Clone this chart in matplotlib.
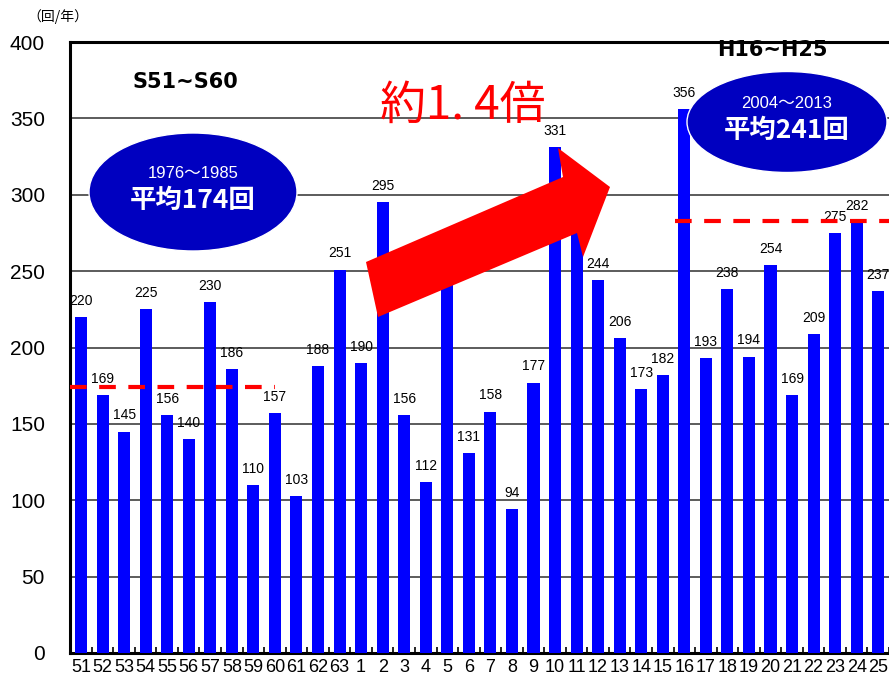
import matplotlib
matplotlib.use("Agg")
import matplotlib.pyplot as plt
from matplotlib.patches import Ellipse, Polygon

# Year labels (Showa 51-63, Heisei 1-25) and yearly counts
years = ["51", "52", "53", "54", "55", "56", "57", "58", "59", "60", "61", "62", "63",
         "1", "2", "3", "4", "5", "6", "7", "8", "9", "10", "11", "12", "13", "14",
         "15", "16", "17", "18", "19", "20", "21", "22", "23", "24", "25"]
counts = [220, 169, 145, 225, 156, 140, 230, 186, 110, 157, 103, 188, 251,
          190, 295, 156, 112, 258, 131, 158, 94, 177, 331, 302, 244, 206, 173,
          182, 356, 193, 238, 194, 254, 169, 209, 275, 282, 237]
# labels that are hidden under the red arrow in the original
hidden = ["5", "11"]

avg_early = 174      # S51~S60
avg_late_line = 283  # line drawn for H16~H25 as placed in the picture

W, H = 889, 681
sans = "Liberation Sans"
mixed = ["Liberation Sans", "Noto Sans CJK JP", "DejaVu Sans"]
jp = ["Noto Sans CJK JP", "DejaVu Sans"]


def px(x, y):
    return x / W, 1 - y / H


fig = plt.figure(figsize=(W / 100, H / 100), dpi=100)
ax = fig.add_axes([70 / W, 1 - 653 / H, 1 - 70 / W, (653 - 42) / H])

xs = list(range(len(years)))
ax.bar(xs, counts, width=0.56, color="#0000FF", zorder=3)
ax.set_xlim(-0.51, len(years) - 1 + 9 / 21.6)
ax.set_ylim(0, 400)
ax.set_yticks(range(0, 401, 50))
ax.yaxis.grid(True, color="#404040", linewidth=1.2, zorder=0)
ax.set_axisbelow(True)

for s in ["left", "top", "bottom"]:
    ax.spines[s].set_linewidth(2.2)
    ax.spines[s].set_color("black")
ax.spines["right"].set_visible(False)

ax.set_xticks(xs)
ax.set_xticklabels(years, family=sans, fontsize=13)
ax.set_xticks([x + 0.5 for x in xs], minor=True)
ax.tick_params(axis="x", which="major", length=0, pad=4)
ax.tick_params(axis="x", which="minor", direction="in", length=4, width=1.2)
ax.tick_params(axis="y", length=0, pad=18)
for lab in ax.get_yticklabels():
    lab.set_family(sans)
    lab.set_fontsize(15)

for x, v, y in zip(xs, counts, years):
    if y in hidden:
        continue
    ax.text(x, v + 6, str(v), ha="center", va="bottom", fontsize=10,
            family=sans, zorder=4)

# average lines
ax.plot([-0.51, 9.0], [avg_early, avg_early], color="#FF0000", lw=3,
        dashes=(4, 3), zorder=5)
ax.plot([27.55, len(years)], [avg_late_line, avg_late_line], color="#FF0000", lw=3,
        dashes=(4, 3), zorder=5, clip_on=False)

# red arrow
arrow_px = [(366, 262), (563, 177), (558, 148), (610, 187), (583, 257),
            (577, 233), (378, 317)]
fig.patches.append(Polygon([px(*p) for p in arrow_px], closed=True,
                           transform=fig.transFigure, facecolor="#FF0000",
                           edgecolor="none", zorder=6))

# ellipses with averages
for cx, cy, w, h, period, avg in [(193, 192, 208, 118, "1976～1985", "平均174回"),
                                  (787, 122, 200, 101, "2004～2013", "平均241回")]:
    fx, fy = px(cx, cy)
    fig.patches.append(Ellipse((fx, fy), w / W, h / H, transform=fig.transFigure,
                               facecolor="#0000C0", edgecolor="white", lw=1, zorder=7))
    fig.text(*px(cx, cy - 18), period, ha="center", va="center", color="white",
             fontsize=12, family=mixed, zorder=8)
    fig.text(*px(cx, cy + 8), avg, ha="center", va="center", color="white",
             fontsize=19, fontweight="bold", family=jp, zorder=8)

fig.text(*px(185, 82), "S51~S60", ha="center", va="center", fontsize=15,
         fontweight="bold", family="DejaVu Sans")
fig.text(*px(772, 50), "H16~H25", ha="center", va="center", fontsize=15,
         fontweight="bold", family="DejaVu Sans")
fig.text(*px(463, 106), "約1. 4倍", ha="center", va="center", fontsize=33,
         color="#FF0000", family=jp)
fig.text(*px(58, 17), "（回/年）", ha="center", va="center", fontsize=10, family=jp)

fig.savefig("out.png", dpi=100)
